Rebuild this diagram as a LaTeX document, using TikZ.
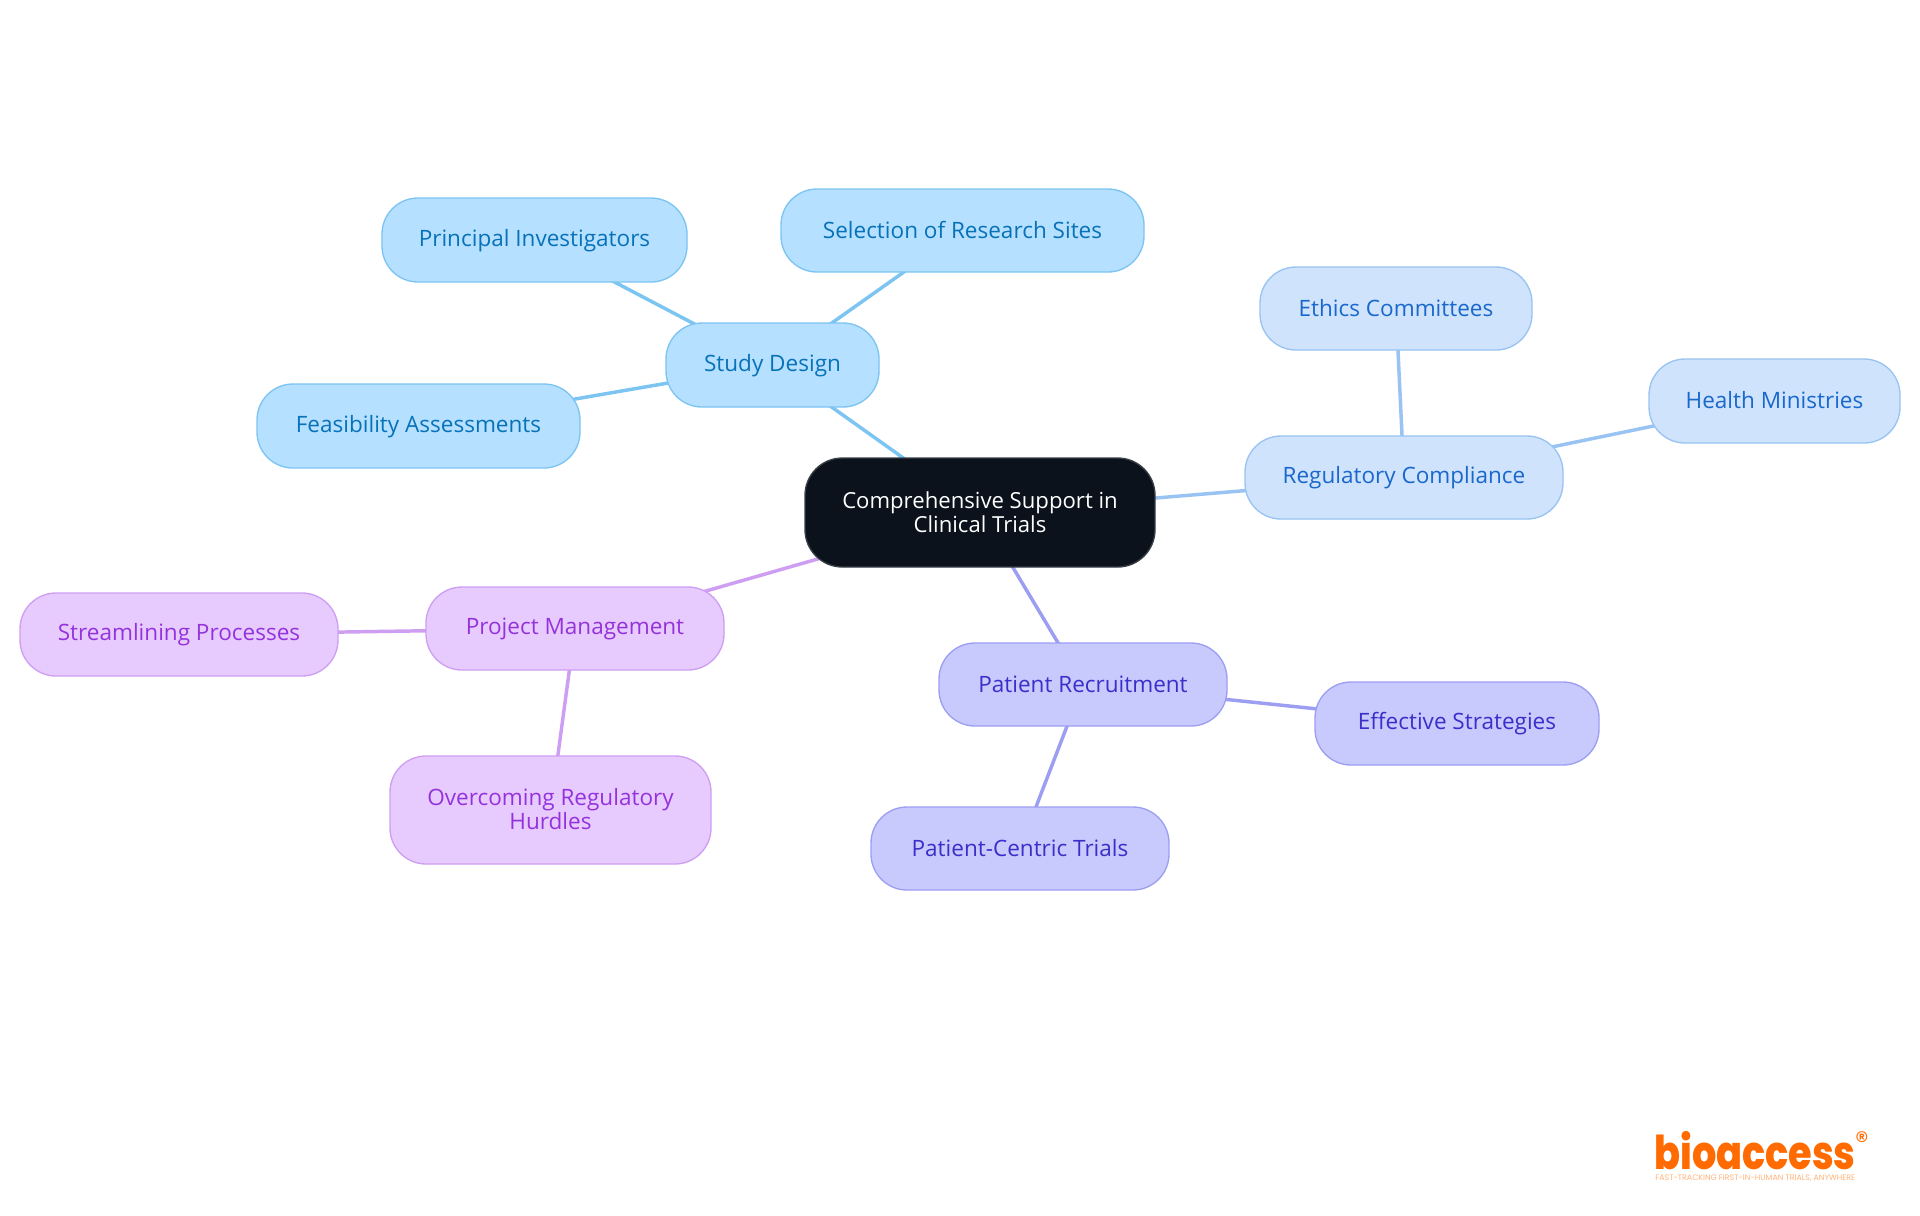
\documentclass[tikz,border=0pt]{standalone}
\usepackage{fontspec}
\usepackage{graphicx}
\setmainfont{Open Sans}
\newfontfamily\logofont{Poppins}[UprightFont=* ExtraBold]
\newfontfamily\tagfont{Poppins}
\usetikzlibrary{backgrounds}
\definecolor{rootfill}{HTML}{0B121B}
\definecolor{rootline}{HTML}{3A4048}
\definecolor{skyfill}{HTML}{B5E0FF}
\definecolor{skyline}{HTML}{7CC4F2}
\definecolor{skytext}{HTML}{0872B8}
\definecolor{bluefill}{HTML}{CFE3FC}
\definecolor{blueline}{HTML}{98C3F2}
\definecolor{bluetext}{HTML}{1A68CC}
\definecolor{indfill}{HTML}{C8CAFE}
\definecolor{indline}{HTML}{9C9EF2}
\definecolor{indtext}{HTML}{3A2FC8}
\definecolor{purfill}{HTML}{E8CBFE}
\definecolor{purline}{HTML}{CE9EF2}
\definecolor{purtext}{HTML}{9433DC}
\definecolor{logo}{HTML}{FF6B00}
\definecolor{logotag}{HTML}{FFB27A}
\tikzset{
  x=0.75pt,y=-0.75pt,
  box/.style={rounded corners=27pt,line width=1pt,align=center,inner sep=0pt,
    font=\fontsize{16.9pt}{18pt}\selectfont},
  rootbox/.style={box,fill=rootfill,draw=rootline,text=white,rounded corners=28pt,
    font=\fontsize{16.6pt}{18pt}\selectfont},
  skybox/.style={box,fill=skyfill,draw=skyline,text=skytext},
  bluebox/.style={box,fill=bluefill,draw=blueline,text=bluetext},
  indbox/.style={box,fill=indfill,draw=indline,text=indtext},
  purbox/.style={box,fill=purfill,draw=purline,text=purtext},
  link/.style={line width=2.6pt},
}
\newcommand{\bs}{\rule[-2.2pt]{0pt}{15.8pt}}
\newcommand{\pbox}[7]{% style, name, x0, y0, x1, y1, text
  \node[#1,minimum width={(#5-#3)*0.75pt},minimum height={(#6-#4)*0.75pt}] (#2) at ({(#3+#5)/2},{(#4+#6)/2}) {#7};}
\begin{document}
\begin{tikzpicture}
\useasboundingbox (0,0) rectangle (1920,1215);
\pbox{rootbox}{root}{805}{458}{1155}{567}{\bs Comprehensive Support in\\\bs Clinical Trials}
\pbox{skybox}{study}{666}{323}{879}{407}{\bs Study Design}
\pbox{skybox}{pi}{382}{198}{687}{282}{\bs Principal Investigators}
\pbox{skybox}{sites}{781}{189}{1144}{272}{\bs Selection of Research Sites}
\pbox{skybox}{feas}{257}{384}{580}{468}{\bs Feasibility Assessments}
\pbox{bluebox}{reg}{1245}{436}{1563}{519}{\bs Regulatory Compliance}
\pbox{bluebox}{ethics}{1260}{267}{1532}{350}{\bs Ethics Committees}
\pbox{bluebox}{health}{1649}{359}{1900}{443}{\bs Health Ministries}
\pbox{indbox}{recruit}{939}{643}{1227}{726}{\bs Patient Recruitment}
\pbox{indbox}{strat}{1315}{682}{1599}{765}{\bs Effective Strategies}
\pbox{indbox}{centric}{871}{807}{1169}{890}{\bs Patient-Centric Trials}
\pbox{purbox}{pm}{426}{587}{724}{670}{\bs Project Management}
\pbox{purbox}{stream}{20}{593}{338}{676}{\bs Streamlining Processes}
\pbox{purbox}{hurdles}{390}{756}{711}{864}{\bs Overcoming Regulatory\\\bs Hurdles}
\begin{scope}[on background layer]
  \draw[link,skyline] (root.center) -- (study.center);
  \draw[link,skyline] (study.center) -- (pi.center);
  \draw[link,skyline] (study.center) -- (sites.center);
  \draw[link,skyline] (study.center) -- (feas.center);
  \draw[link,blueline] (root.center) -- (reg.center);
  \draw[link,blueline] (reg.center) -- (ethics.center);
  \draw[link,blueline] (reg.center) -- (health.center);
  \draw[link,indline] (root.center) -- (recruit.center);
  \draw[link,indline] (recruit.center) -- (strat.center);
  \draw[link,indline] (recruit.center) -- (centric.center);
  \draw[link,purline] (root.center) -- (pm.center);
  \draw[link,purline] (pm.center) -- (stream.center);
  \draw[link,purline] (pm.center) -- (hurdles.center);
\end{scope}
\node[inner sep=0pt,text=logo,anchor=south west] (logoword) at (1654,1170)
  {\resizebox{151pt}{28.5pt}{\logofont bioaccess}};
\node[inner sep=0pt,text=logo] (logomark) at (1862,1141) {\fontsize{20pt}{20pt}\selectfont\tagfont ®};
\node[inner sep=0pt,text=logotag,anchor=west] (logotag) at (1655,1178)
  {\resizebox{150pt}{!}{\tagfont FAST-TRACKING FIRST-IN-HUMAN TRIALS, ANYWHERE}};
\end{tikzpicture}
\end{document}
